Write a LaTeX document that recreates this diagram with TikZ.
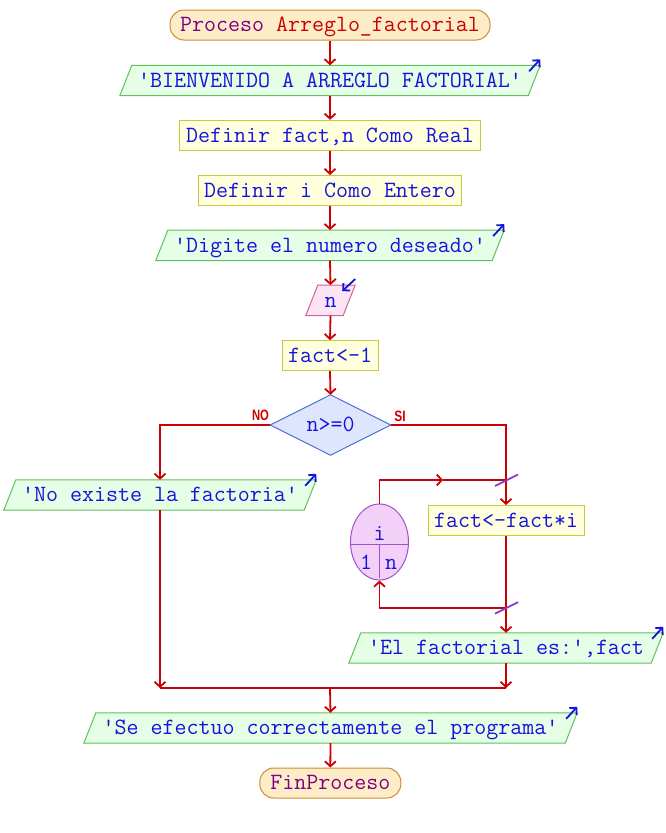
\documentclass[tikz,border=0pt]{standalone}
\usepackage{fontspec}
\newfontfamily\lblfont{Liberation Sans}
\usetikzlibrary{arrows.meta,backgrounds,shapes.geometric,calc}
\definecolor{lnred}{RGB}{204,0,0}
\definecolor{txtblue}{RGB}{20,20,220}
\definecolor{termfill}{RGB}{253,236,200}
\definecolor{termdraw}{RGB}{204,140,51}
\definecolor{procfill}{RGB}{255,255,221}
\definecolor{procdraw}{RGB}{200,200,64}
\definecolor{outfill}{RGB}{230,253,230}
\definecolor{outdraw}{RGB}{96,192,96}
\definecolor{infill}{RGB}{253,228,245}
\definecolor{indraw}{RGB}{204,102,153}
\definecolor{diafill}{RGB}{221,230,253}
\definecolor{diadraw}{RGB}{80,112,208}
\definecolor{loopfill}{RGB}{243,208,248}
\definecolor{loopdraw}{RGB}{160,80,208}
\definecolor{kwpurple}{RGB}{128,0,128}
\definecolor{slashcol}{RGB}{128,64,200}
\tikzset{
  base/.style={inner sep=0pt, text height=13.6pt, text depth=0pt, minimum height=30pt, text=txtblue, align=center},
  term/.style={base, draw=termdraw, fill=termfill, rounded corners=14pt, line width=1pt},
  proc/.style={base, draw=procdraw, fill=procfill, line width=1pt},
  body/.style={base},
  txt/.style={inner sep=0pt, text height=13.6pt, text depth=0pt, text=txtblue},
  lbl/.style={inner sep=0pt, text=lnred, font=\lblfont\bfseries\fontsize{15}{15}\selectfont},
  conn/.style={draw=lnred, line width=1.8pt},
  arr/.style={conn, -{Straight Barb[length=5pt,width=11pt]}},
  icon/.style={draw=txtblue, line width=1.8pt, -{Straight Barb[length=5pt,width=10pt]}},
  outpara/.style={fill=outfill, draw=outdraw, line width=1pt},
  inpara/.style={fill=infill, draw=indraw, line width=1pt},
  slashmark/.style={draw=slashcol, line width=1.8pt},
}
\newcommand\paragon[3]{%
  \path[#3] ([xshift=#2]#1.north west) -- ([xshift=#2]#1.north east) -- ([xshift=-#2]#1.south east) -- ([xshift=-#2]#1.south west) -- cycle;}
\begin{document}
\begin{tikzpicture}[x=1pt, y=-1pt, font=\ttfamily\fontsize{23.3}{27}\selectfont]
\useasboundingbox (0,0) rectangle (666,833);

% nodes
\node[term, minimum width=320pt] (start) at (330,25) {{\color{kwpurple}Proceso} {\color{lnred}Arreglo\_factorial}};
\node[body, minimum width=408pt] (o1) at (330,80.5) {'BIENVENIDO A ARREGLO FACTORIAL'};
\node[proc, minimum width=301pt] (d1) at (330,135.3) {Definir fact,n Como Real};
\node[proc, minimum width=263pt] (d2) at (330,190.5) {Definir i Como Entero};
\node[body, minimum width=336pt] (o2) at (330,245.3) {'Digite el numero deseado'};
\node[body, minimum width=37pt] (in1) at (330.5,300.3) {n};
\node[proc, minimum width=96pt] (p1) at (330,355.7) {fact<-1};
\node[body, minimum width=120pt, minimum height=60pt] (dia) at (330.5,425) {n>=0};
\node[body, minimum width=300pt] (noE) at (160,495) {'No existe la factoria'};
\node[proc, minimum width=156pt] (pf) at (506,520.5) {fact<-fact*i};
\node[ellipse, draw=loopdraw, fill=loopfill, line width=1pt, minimum width=58pt, minimum height=76pt, inner sep=0pt] (lp) at (379.5,542) {};
\node[body, minimum width=302pt] (ef) at (506,648) {'El factorial es:',fact};
\node[body, minimum width=481pt] (se) at (330.5,728) {'Se efectuo correctamente el programa'};
\node[term, minimum width=141pt] (fin) at (330.3,783) {\color{kwpurple}FinProceso};

% loop variable texts
\draw[loopdraw, line width=1pt] ($(lp.west)+(0.1,2)$) -- ($(lp.east)+(-0.1,2)$);
\draw[loopdraw, line width=1pt] ($(lp.center)+(0,2)$) -- ($(lp.south)+(0,-3)$);
\node[txt] (lpv) at (379.5,534) {i};
\node[txt] (lpa) at (366,563) {1};
\node[txt] (lpb) at (391,563) {n};

% labels
\node[lbl] (lno) at (260.5,415.5) {\scalebox{0.75}[1]{NO}};
\node[lbl] (lsi) at (400,416) {\scalebox{0.8}[1]{SI}};

% shapes behind text
\begin{scope}[on background layer]
  \paragon{o1}{6pt}{outpara}
  \paragon{o2}{6pt}{outpara}
  \paragon{in1}{6pt}{inpara}
  \paragon{noE}{6pt}{outpara}
  \paragon{ef}{6pt}{outpara}
  \paragon{se}{6pt}{outpara}
  \path[fill=diafill, draw=diadraw, line width=1pt] (dia.north) -- (dia.east) -- (dia.south) -- (dia.west) -- cycle;
\end{scope}

% coordinates
\coordinate (ltop) at (506,480);
\coordinate (lmid) at (443,480);
\coordinate (lbot) at (506,607.7);
\coordinate (jl) at (160,688);
\coordinate (jr) at (506,688);
\coordinate (jc) at (330,688);

% connectors
\draw[arr] (start.south) -- (o1.north);
\draw[arr] (o1.south) -- (d1.north);
\draw[arr] (d1.south) -- (d2.north);
\draw[arr] (d2.south) -- (o2.north);
\draw[arr] (o2.south) -- (in1.north);
\draw[arr] (in1.south) -- (p1.north);
\draw[arr] (p1.south) -- (dia.north);
\draw[arr] (dia.west) -| (noE.north);
\draw[arr] (dia.east) -| (pf.north);
\draw[arr] (lp.north) |- (lmid);
\draw[conn] (lmid) -- (ltop);
\draw[arr] (lbot) -| (lp.south);
\draw[arr] (pf.south) -- (ef.north);
\draw[arr] (noE.south) -- (jl);
\draw[arr] (ef.south) -- (jr);
\draw[conn] (jl) -- (jr);
\draw[arr] (jc) -- (se.north);
\draw[arr] (se.south) -- (fin.north);

% loop slash marks
\draw[slashmark] ($(ltop)+(-11,6)$) -- ($(ltop)+(12,-5.5)$);
\draw[slashmark] ($(lbot)+(-11,6)$) -- ($(lbot)+(12,-5.5)$);

% io icons
\draw[icon] ($(o1.north east)+(-5,6)$) -- ($(o1.north east)+(6,-6)$);
\draw[icon] ($(o2.north east)+(-5,6)$) -- ($(o2.north east)+(6,-6)$);
\draw[icon] ($(noE.north east)+(-5,6)$) -- ($(noE.north east)+(6,-6)$);
\draw[icon] ($(ef.north east)+(-5,6)$) -- ($(ef.north east)+(6,-6)$);
\draw[icon] ($(se.north east)+(-5,6)$) -- ($(se.north east)+(6,-6)$);
\draw[icon] ($(in1.north east)+(6,-6)$) -- ($(in1.north east)+(-7,6)$);
\end{tikzpicture}
\end{document}
